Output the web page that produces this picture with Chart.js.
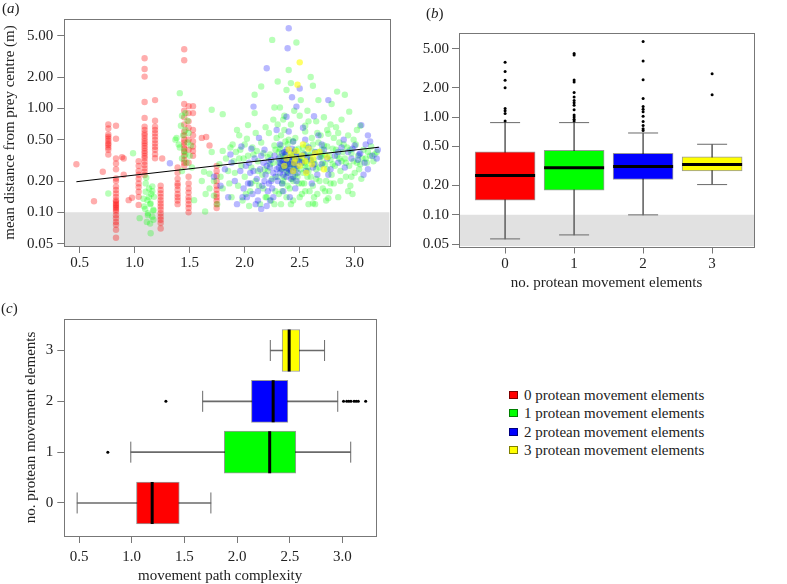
<!DOCTYPE html>
<html><head><meta charset="utf-8">
<script src="https://cdn.jsdelivr.net/npm/chart.js@4.4.0/dist/chart.umd.min.js"></script>
<style>
html,body{margin:0;padding:0;background:#fff;width:787px;height:584px;overflow:hidden;font-family:'Liberation Serif','Times New Roman',serif;color:#222;}
canvas{position:absolute;}
.lab{position:absolute;font-size:15px;line-height:18px;}
#legend{position:absolute;left:509px;top:386px;font-size:15px;line-height:18.3px;}
#legend div{white-space:nowrap;height:18.3px;}
#legend .sq{display:inline-block;width:7px;height:6px;border:1px solid rgba(0,0,0,0.5);margin-right:6px;vertical-align:1px;}
</style></head>
<body>
<canvas id="ca" width="400" height="290" style="left:0;top:0"></canvas>
<canvas id="cb" width="397" height="296" style="left:390px;top:0"></canvas>
<canvas id="cc" width="400" height="290" style="left:0;top:295px"></canvas>
<div class="lab" style="left:2px;top:-1px">(<i>a</i>)</div>
<div class="lab" style="left:426px;top:4px">(<i>b</i>)</div>
<div class="lab" style="left:1px;top:299px">(<i>c</i>)</div>
<div id="legend"></div>
<script>
// ---------- panel (a) data: [movement path complexity, mean distance (m)] ----------
const redPts = [
[0.47,0.29],[0.63,0.128],[0.71,0.246],
[0.76,0.70],[0.76,0.64],[0.76,0.56],[0.76,0.535],[0.76,0.51],[0.76,0.485],[0.76,0.46],[0.76,0.445],[0.76,0.42],[0.76,0.40],[0.76,0.36],
[0.83,0.68],[0.83,0.51],[0.83,0.33],[0.83,0.295],[0.83,0.26],[0.83,0.212],[0.83,0.20],[0.83,0.177],[0.83,0.164],[0.83,0.152],[0.83,0.141],[0.83,0.131],[0.83,0.127],[0.83,0.122],[0.83,0.118],[0.83,0.114],[0.83,0.110],[0.83,0.106],[0.83,0.102],[0.83,0.094],[0.83,0.088],[0.83,0.081],[0.83,0.076],[0.83,0.068],[0.83,0.057],
[0.885,0.34],[0.90,0.33],[0.945,0.131],[0.975,0.138],[0.90,0.23],
[1.036,0.31],[1.036,0.28],[1.036,0.25],[1.036,0.23],[1.036,0.21],[1.036,0.19],[1.036,0.175],[1.036,0.158],[1.036,0.141],[1.036,0.118],
[1.09,3.03],[1.09,2.39],[1.09,2.02],[1.09,1.15],[1.09,0.81],[1.09,0.667],[1.09,0.62],[1.09,0.576],[1.09,0.548],[1.09,0.515],[1.09,0.486],[1.09,0.461],[1.09,0.438],[1.09,0.413],[1.09,0.389],[1.09,0.37],[1.09,0.348],[1.09,0.331],[1.09,0.307],[1.09,0.286],[1.09,0.265],[1.09,0.246],[1.09,0.229],
[1.185,1.2],[1.185,0.76],[1.185,0.667],[1.185,0.62],[1.185,0.576],[1.185,0.535],[1.185,0.497],[1.185,0.461],[1.185,0.428],[1.185,0.40],[1.185,0.363],[1.185,0.331],[1.25,0.33],
[1.236,0.18],[1.236,0.164],[1.236,0.152],[1.236,0.141],[1.236,0.131],[1.236,0.122],[1.236,0.114],[1.236,0.106],[1.236,0.098],[1.236,0.091],[1.236,0.085],[1.236,0.079],[1.236,0.07],
[1.39,0.27],[1.39,0.24],[1.39,0.21],[1.39,0.19],[1.39,0.18],[1.39,0.165],[1.39,0.15],[1.39,0.14],[1.39,0.13],[1.39,0.12],
[1.45,3.7],[1.45,2.9],[1.45,1.1],[1.45,0.95],[1.45,0.82],[1.45,0.7],[1.45,0.6],[1.45,0.55],[1.45,0.5],[1.45,0.47],[1.45,0.44],[1.45,0.41],[1.45,0.38],[1.45,0.35],[1.45,0.32],[1.45,0.30],[1.45,0.28],
[1.49,1.05],[1.49,0.9],[1.49,0.75],[1.49,0.65],[1.49,0.5],[1.49,0.4],[1.49,0.3],[1.49,0.22],[1.49,0.19],[1.49,0.17],[1.49,0.155],[1.49,0.14],[1.49,0.13],[1.49,0.12],[1.49,0.11],[1.49,0.10],
[1.53,1.05],[1.53,0.9],[1.53,0.62],[1.53,0.55],[1.53,0.48],[1.53,0.43],[1.53,0.39],[1.53,0.35],
[1.61,0.52],[1.65,0.53],[1.68,0.44],
[1.745,0.28],[1.745,0.25],[1.745,0.225],[1.745,0.20],[1.745,0.18],[1.745,0.165],[1.745,0.15],[1.745,0.14],[1.745,0.13],[1.745,0.12],[1.745,0.11]
];
const greenPts = [
[0.76,0.152],[0.985,0.37],[1.045,0.088],
[1.13,0.17],[1.16,0.178],[1.10,0.158],[1.175,0.141],[1.115,0.131],[1.145,0.122],[1.085,0.114],[1.17,0.106],[1.12,0.098],[1.16,0.091],[1.11,0.081],[1.145,0.063],[1.15,0.15],[1.10,0.19],[1.105,0.215],[1.14,0.12],[1.095,0.108],[1.17,0.104],[1.12,0.094],[1.17,0.085],[1.13,0.14],[1.16,0.16],[1.08,0.135],[1.14,0.078],
[1.41,1.4],[1.46,0.9],[1.43,0.85],[1.48,0.76],[1.42,0.68],[1.46,0.62],[1.37,0.5],[1.40,0.45],[1.51,0.44],[1.45,0.39],[1.50,0.35],[1.43,0.33],[1.47,0.30],[1.52,0.27],[1.54,0.131],[1.43,0.25],[1.44,0.55],[1.49,0.58],[1.41,0.42],[1.48,0.47],[1.38,0.52],[1.46,0.36],
[1.70,0.97],[1.80,0.88],[1.70,0.38],[1.80,0.39],[1.63,0.246],[1.68,0.235],[1.61,0.2],[1.68,0.17],[1.72,0.2],[1.645,0.15],[1.72,0.145],[1.80,0.17],[1.64,0.102],[1.83,0.33],[1.77,0.29],[1.87,0.42],[1.85,0.25],[1.88,0.14],[1.78,0.22],[1.90,0.31],[1.75,0.12],[1.86,0.19],[1.92,0.38],
[1.93,0.62],[1.95,0.55],[1.89,0.45],[2.02,0.51],[2.03,0.69],[1.97,0.28],[2.00,0.22],[1.94,0.18],[2.05,0.16],[1.98,0.13],[2.08,0.36],[2.06,0.27],[1.96,0.40],[2.10,0.2],[2.04,0.115],[1.99,0.33],[2.09,0.9],[2.07,0.42],[1.91,0.24],[2.01,0.15],
[2.12,0.31],[2.15,0.47],[2.18,0.26],[2.13,0.18],[2.20,0.14],[2.22,0.58],[2.17,0.37],[2.25,0.21],[2.14,0.12],[2.27,0.44],[2.19,0.66],[2.23,0.29],[2.28,0.16],[2.16,0.23],[2.21,0.34],[2.26,0.78],[2.29,0.52],[2.11,0.39],[2.24,0.13],[2.15,1.62],[2.09,1.35],[2.27,1.02],[2.30,1.81],[2.25,4.55],
[2.31,0.30],[2.33,0.26],[2.35,0.35],[2.32,0.41],[2.36,0.22],[2.38,0.32],[2.34,0.19],[2.37,0.28],[2.39,0.45],[2.31,0.15],[2.40,0.24],[2.42,0.37],[2.33,0.55],[2.44,0.29],[2.36,0.62],[2.41,0.17],[2.45,0.33],[2.38,0.14],[2.43,0.21],[2.46,0.40],[2.35,0.27],[2.47,0.26],[2.32,0.34],[2.48,0.31],[2.40,0.50],[2.44,0.13],[2.37,0.38],[2.49,0.19],[2.42,0.70],[2.34,0.31],[2.46,0.23],[2.39,0.29],[2.32,1.02],[2.38,1.5],[2.40,2.34],[2.42,1.75],[2.47,4.3],[2.36,0.85],[2.44,0.48],[2.48,0.36],[2.33,0.12],[2.41,0.27],
[2.51,1.2],[2.52,0.33],[2.55,0.28],[2.53,0.42],[2.58,0.25],[2.56,0.36],[2.60,0.31],[2.54,0.19],[2.62,0.45],[2.57,0.22],[2.64,0.29],[2.59,0.16],[2.66,0.38],[2.61,0.52],[2.68,0.27],[2.63,0.14],[2.55,0.60],[2.65,0.21],[2.69,0.34],[2.52,0.15],[2.58,0.75],[2.67,0.47],[2.62,0.18],[2.53,0.24],[2.70,0.40],[2.57,0.95],[2.60,2.0],[2.64,0.12],[2.56,0.31],[2.69,0.55],[2.62,1.65],[2.67,1.2],[2.62,0.122],
[2.71,0.30],[2.73,0.36],[2.75,0.26],[2.72,0.44],[2.78,0.32],[2.74,0.20],[2.80,0.41],[2.76,0.57],[2.82,0.28],[2.77,0.16],[2.84,0.35],[2.79,0.23],[2.86,0.47],[2.81,0.19],[2.88,0.31],[2.83,0.66],[2.85,0.14],[2.89,0.38],[2.74,0.13],[2.87,0.25],[2.79,1.1],[2.72,0.82],[2.84,1.45],[2.88,0.78],[2.78,0.70],[2.76,0.137],[2.73,0.16],
[2.91,0.33],[2.93,0.42],[2.95,0.28],[2.97,0.37],[2.92,0.22],[2.99,0.31],[3.01,0.45],[2.96,0.18],[3.03,0.35],[3.05,0.29],[2.94,0.55],[3.08,0.40],[3.10,0.33],[3.12,0.38],[3.00,0.24],[3.15,0.43],[2.98,0.15],[3.06,0.21],[3.18,0.36],[3.02,0.62],[2.91,1.35],[2.95,0.93],[3.05,0.68],
[2.21,0.25],[2.23,0.36],[2.26,0.30],[2.28,0.40],[2.30,0.22],[2.31,0.38],[2.33,0.44],[2.35,0.20],[2.36,0.34],[2.37,0.48],[2.38,0.25],[2.39,0.18],[2.41,0.31],[2.43,0.35],[2.44,0.20],[2.45,0.27],[2.46,0.52],[2.48,0.22],[2.49,0.41],[2.50,0.33],[2.51,0.26],[2.52,0.19],[2.53,0.37],[2.54,0.30],[2.56,0.44],[2.57,0.27],[2.59,0.35],[2.60,0.22],[2.61,0.39],[2.63,0.32],[2.65,0.26],[2.66,0.58],[2.68,0.20],[2.70,0.35],[2.71,0.17],[2.73,0.29],[2.75,0.43],[2.77,0.35],[2.80,0.29],[2.81,0.52],[2.83,0.40],[2.86,0.33],[2.87,0.20],[2.90,0.45],[2.92,0.30],[2.94,0.16],[2.96,0.40],[2.99,0.50],[3.02,0.30],[3.04,0.26],[3.07,0.33],[3.11,0.30],[3.14,0.35],[3.17,0.31],[3.20,0.38],
[2.19,0.14],[2.27,0.12],[2.34,0.16],[2.42,0.12],[2.50,0.14],[2.55,0.16],[2.58,0.12],[2.66,0.15],[2.78,0.19],[2.97,0.22],[2.03,0.35],[2.06,0.19],[2.12,0.25],[2.17,0.17],[1.95,0.33],[2.00,0.45],[2.10,0.58],[2.30,0.70],[2.35,0.78],[2.50,0.85],[2.55,0.68],[2.65,0.75],[2.75,0.62],[2.85,0.58],[2.45,0.95]
];
const bluePts = [
[1.32,0.297],
[2.40,5.9],[2.39,3.78],[2.20,2.43],[2.50,1.55],[2.43,1.28],[2.47,1.04],[2.08,1.04],[2.76,1.2],[2.63,0.84],[2.38,0.83],[2.29,0.62],
[1.72,0.22],[1.78,0.18],[1.82,0.26],[1.85,0.14],[1.88,0.30],[1.91,0.20],[1.93,0.12],[1.96,0.25],[1.99,0.17],[1.87,0.36],[1.97,0.43],
[2.01,0.28],[2.03,0.19],[2.05,0.24],[2.07,0.15],[2.09,0.33],[2.11,0.21],[2.12,0.13],[2.14,0.26],[2.16,0.18],[2.17,0.30],[2.19,0.23],[2.20,0.115],[2.21,0.16],[2.23,0.27],[2.24,0.20],[2.26,0.14],[2.27,0.35],[2.28,0.22],[2.06,0.41],[2.13,0.52],[2.18,0.40],[2.22,0.31],[2.25,0.17],[2.10,0.12],[2.15,0.108],[2.02,0.14],[2.08,0.25],[2.29,0.26],[2.04,0.30],
[2.31,0.33],[2.32,0.24],[2.33,0.29],[2.34,0.19],[2.35,0.31],[2.36,0.27],[2.37,0.36],[2.38,0.22],[2.39,0.30],[2.40,0.26],[2.41,0.34],[2.42,0.21],[2.43,0.29],[2.44,0.25],[2.45,0.38],[2.46,0.31],[2.47,0.20],[2.48,0.28],[2.49,0.34],[2.32,0.45],[2.35,0.16],[2.38,0.40],[2.41,0.14],[2.44,0.48],[2.36,0.32],[2.40,0.60],[2.46,0.17],[2.34,0.37],[2.43,0.41],[2.31,0.27],
[2.52,0.30],[2.54,0.36],[2.56,0.25],[2.58,0.42],[2.60,0.32],[2.62,0.27],[2.64,0.38],[2.66,0.23],[2.68,0.34],[2.55,0.50],[2.61,0.19],[2.70,0.29],[2.72,0.40],[2.75,0.33],[2.78,0.26],[2.53,0.65],[2.67,0.55],[2.76,0.23],
[2.82,0.35],[2.85,0.30],[2.88,0.42],[2.91,0.27],[2.94,0.38],[2.97,0.33],[3.00,0.44],[3.04,0.36],[3.06,0.69],[3.08,0.23],[3.12,0.55],[3.12,0.26],[3.14,0.48],[3.16,0.35],[3.21,0.40],[3.20,0.33],[3.09,0.30],[3.05,0.37],[2.90,0.50],
[2.30,0.20],[2.32,0.30],[2.34,0.26],[2.35,0.23],[2.36,0.38],[2.37,0.30],[2.38,0.27],[2.39,0.24],[2.40,0.33],[2.41,0.29],[2.42,0.25],[2.43,0.32],[2.44,0.22],[2.45,0.30],[2.46,0.27],[2.47,0.35],[2.48,0.24],[2.50,0.31],[2.18,0.20],[2.20,0.28],[2.22,0.19],[2.24,0.32],[2.26,0.24],[2.15,0.35],[2.05,0.19],[1.98,0.14],[2.12,0.16],[2.23,0.13],[2.57,0.34],[2.63,0.29],[2.70,0.45],[2.85,0.38],[2.98,0.41],[3.03,0.32],[3.10,0.45]
];
const yellowPts = [
[2.50,2.77],[2.48,1.69],[2.72,0.26],[2.38,0.33],[2.42,0.36],[2.45,0.30],[2.47,0.39],[2.50,0.28],[2.52,0.35],[2.55,0.31],[2.58,0.41],[2.61,0.29],[2.64,0.37],[2.44,0.25],[2.56,0.24],[2.40,0.40],[2.53,0.45],[2.46,0.33],[2.62,0.33],[2.68,0.38],[2.36,0.28],[2.75,0.34]
];
const fitLine = [[0.47,0.197],[3.22,0.423]];
const shadeLimit = 0.1;

// ---------- axes ----------
const xTicksAC = [0.5,1.0,1.5,2.0,2.5,3.0];
const yTicksAB = [0.05,0.1,0.2,0.5,1,2,5];
const catTicks = [0,1,2,3];

// ---------- panel (b): distance by no. protean elements ----------
const bCats = [0,1,2,3];
const bLo  = [0.0568,0.0624,0.100,0.204];
const bQ1  = [0.141,0.179,0.230,0.281];
const bMed = [0.252,0.303,0.312,0.328];
const bQ3  = [0.441,0.458,0.426,0.392];
const bHi  = [0.877,0.877,0.687,0.527];
const bOut0 = [3.64,2.92,2.38,1.99,1.22,1.16,1.09,0.91];
const bOut1 = [4.45,4.3,2.39,2.28,1.78,1.6,1.48,1.4,1.32,1.19,1.05,1.0,0.95,0.91];
const bOut2 = [5.93,3.75,2.41,1.55,1.28,1.2,1.13,1.02,0.9,0.82,0.76,0.73];
const bOut3 = [2.77,1.69];

// ---------- panel (c): complexity by no. protean elements ----------
const cCats = [0,1,2,3];
const cLo  = [0.482,0.991,1.673,2.315];
const cQ1  = [1.045,1.878,2.136,2.427];
const cMed = [1.194,2.309,2.342,2.494];
const cQ3  = [1.451,2.557,2.482,2.594];
const cHi  = [1.751,3.078,2.955,2.830];
const cOut0 = [];
const cOut1 = [0.773];
const cOut2 = [1.324,3.01,3.04,3.06,3.08,3.11,3.13,3.15,3.22];
const cOut3 = [];

const groupColors = ['#ff0000','#00ff00','#0000ff','#ffff00'];
const pointColors = ['rgba(255,0,0,0.32)','rgba(0,255,0,0.28)','rgba(0,0,255,0.28)','rgba(255,255,0,0.6)'];
const legendLabels = ['0 protean movement elements','1 protean movement elements','2 protean movement elements','3 protean movement elements'];

// ---------- common setup ----------
Chart.defaults.font.family = "'Liberation Serif','Times New Roman',serif";
Chart.defaults.font.size = 15;
Chart.defaults.color = '#222';
Chart.defaults.animation = false;
Chart.defaults.events = [];
Chart.defaults.plugins.legend.display = false;
Chart.defaults.plugins.tooltip.enabled = false;
const AX = '#777';
const gridCfg = {display:true, drawOnChartArea:false, drawTicks:true, tickLength:7, tickColor:AX, color:AX, offset:false};
const frame = {id:'frame', afterDraw(c){
  const a=c.chartArea, ctx=c.ctx; ctx.save(); ctx.strokeStyle=AX; ctx.lineWidth=1;
  const l=Math.round(a.left), t=Math.round(a.top), r=Math.round(a.right), b=Math.round(a.bottom);
  ctx.strokeRect(l+0.5,t+0.5,r-l,b-t); ctx.restore();
}};
const setTicks = arr => s => { s.ticks = arr.map(v=>({value:v})); };
const xy = arr => arr.map(p=>({x:p[0],y:p[1]}));
const boxBorder = 'rgba(0,0,0,0.4)';
const whiskerCol = '#6a6a6a';

// ---------- panel (a) ----------
const xMinA = 0.36, xMaxA = 3.318, yMinAB = 0.0475, yMaxAB = 7.23;
const scatterSet = (arr,i,ord) => ({type:'scatter', data:xy(arr), pointRadius:3.2, pointBackgroundColor:pointColors[i], pointBorderWidth:0, order:ord});
new Chart(document.getElementById('ca'), {
  type:'scatter',
  data:{datasets:[
    {type:'line', data:[{x:xMinA,y:shadeLimit},{x:xMaxA,y:shadeLimit}], fill:'start', backgroundColor:'#e1e1e1', borderWidth:0, pointRadius:0, order:10},
    scatterSet(redPts,0,5), scatterSet(greenPts,1,4), scatterSet(bluePts,2,3), scatterSet(yellowPts,3,2),
    {type:'line', data:xy(fitLine), borderColor:'#000', borderWidth:1, pointRadius:0, fill:false, order:0}
  ]},
  options:{responsive:false, devicePixelRatio:1,
    layout:{padding:{top:19,right:10.3,left:0,bottom:0}},
    scales:{
      x:{type:'linear', min:xMinA, max:xMaxA, afterBuildTicks:setTicks(xTicksAC), afterFit:s=>{s.height=44;},
         ticks:{callback:v=>Number(v).toFixed(1), padding:1, autoSkip:false, maxRotation:0}, grid:gridCfg, border:{display:false}},
      y:{type:'logarithmic', min:yMinAB, max:yMaxAB, afterBuildTicks:setTicks(yTicksAB), afterFit:s=>{s.width=64.3;},
         ticks:{callback:v=>Number(v).toFixed(2), padding:4, autoSkip:false}, grid:gridCfg, border:{display:false},
         title:{display:true, text:'mean distance from prey centre (m)', padding:{top:1,bottom:0}}}
    }},
  plugins:[frame]
});

// ---------- panel (b) ----------
const xMinB = -0.668, xMaxB = 3.607;
const bOuts = [bOut0,bOut1,bOut2,bOut3];
new Chart(document.getElementById('cb'), {
  type:'bar',
  data:{datasets:[
    {type:'line', data:[{x:xMinB,y:shadeLimit},{x:xMaxB,y:shadeLimit}], fill:'start', backgroundColor:'#e1e1e1', borderWidth:0, pointRadius:0, order:10},
    {type:'bar', data:bCats.map((c,i)=>({x:c,y:[bLo[i],bHi[i]]})), backgroundColor:whiskerCol, borderWidth:0, barThickness:1, grouped:false, order:6},
    {type:'bar', data:bCats.map((c,i)=>({x:c,y:[bQ1[i],bQ3[i]]})), backgroundColor:groupColors, borderColor:boxBorder, borderWidth:1, borderSkipped:false, barThickness:60, grouped:false, order:5},
    {type:'scatter', data:bCats.flatMap((c,i)=>[{x:c,y:bLo[i]},{x:c,y:bHi[i]}]), pointStyle:'line', pointRadius:15, pointBorderColor:whiskerCol, pointBorderWidth:1, order:4},
    {type:'scatter', data:bCats.map((c,i)=>({x:c,y:bMed[i]})), pointStyle:'line', pointRadius:30, pointBorderColor:'#000', pointBorderWidth:3, order:3},
    {type:'scatter', data:bCats.flatMap((c,i)=>bOuts[i].map(v=>({x:c,y:v}))), pointRadius:1.5, pointBackgroundColor:'#000', pointBorderWidth:0, order:2}
  ]},
  options:{responsive:false, devicePixelRatio:1,
    layout:{padding:{top:19,right:6,left:0,bottom:0}},
    scales:{
      x:{type:'linear', min:xMinB, max:xMaxB, offset:false, afterBuildTicks:setTicks(catTicks), afterFit:s=>{s.height=49.5;},
         ticks:{callback:v=>String(v), padding:2, autoSkip:false, maxRotation:0}, grid:gridCfg, border:{display:false},
         title:{display:true, text:'no. protean movement elements', padding:{top:0,bottom:4}}},
      y:{type:'logarithmic', min:yMinAB, max:yMaxAB, afterBuildTicks:setTicks(yTicksAB), afterFit:s=>{s.width=69;},
         ticks:{callback:v=>Number(v).toFixed(2), padding:3, autoSkip:false}, grid:gridCfg, border:{display:false}}
    }},
  plugins:[frame]
});

// ---------- panel (c) ----------
const cOuts = [cOut0,cOut1,cOut2,cOut3];
new Chart(document.getElementById('cc'), {
  type:'bar',
  data:{datasets:[
    {type:'bar', data:cCats.map((c,i)=>({y:c,x:[cLo[i],cHi[i]]})), backgroundColor:whiskerCol, borderWidth:0, barThickness:1, grouped:false, order:6},
    {type:'bar', data:cCats.map((c,i)=>({y:c,x:[cQ1[i],cQ3[i]]})), backgroundColor:groupColors, borderColor:boxBorder, borderWidth:1, borderSkipped:false, barThickness:42, grouped:false, order:5},
    {type:'scatter', data:cCats.flatMap((c,i)=>[{x:cLo[i],y:c},{x:cHi[i],y:c}]), pointStyle:'line', pointRotation:90, pointRadius:10.5, pointBorderColor:whiskerCol, pointBorderWidth:1, order:4},
    {type:'scatter', data:cCats.map((c,i)=>({x:cMed[i],y:c})), pointStyle:'line', pointRotation:90, pointRadius:21, pointBorderColor:'#000', pointBorderWidth:3, order:3},
    {type:'scatter', data:cCats.flatMap((c,i)=>cOuts[i].map(v=>({x:v,y:c}))), pointRadius:1.5, pointBackgroundColor:'#000', pointBorderWidth:0, order:2}
  ]},
  options:{responsive:false, devicePixelRatio:1, indexAxis:'y',
    layout:{padding:{top:17.3,right:10.3,left:0,bottom:0}},
    scales:{
      x:{type:'linear', min:xMinA, max:xMaxA, offset:false, afterBuildTicks:setTicks(xTicksAC), afterFit:s=>{s.height=49;},
         ticks:{callback:v=>Number(v).toFixed(1), padding:5, autoSkip:false, maxRotation:0}, grid:gridCfg, border:{display:false},
         title:{display:true, text:'movement path complexity', padding:{top:0,bottom:0}}},
      y:{type:'linear', min:-0.65, max:3.62, offset:false, afterBuildTicks:setTicks(catTicks), afterFit:s=>{s.width=64.3;},
         ticks:{callback:v=>String(v), padding:4, autoSkip:false}, grid:gridCfg, border:{display:false},
         title:{display:true, text:'no. protean movement elements', padding:{top:22,bottom:0}}}
    }},
  plugins:[frame]
});

// ---------- legend ----------
const lg = document.getElementById('legend');
legendLabels.forEach((t,i)=>{
  const d = document.createElement('div');
  const s = document.createElement('span'); s.className='sq'; s.style.background = groupColors[i];
  d.appendChild(s); d.appendChild(document.createTextNode(t)); lg.appendChild(d);
});
</script>
</body></html>
